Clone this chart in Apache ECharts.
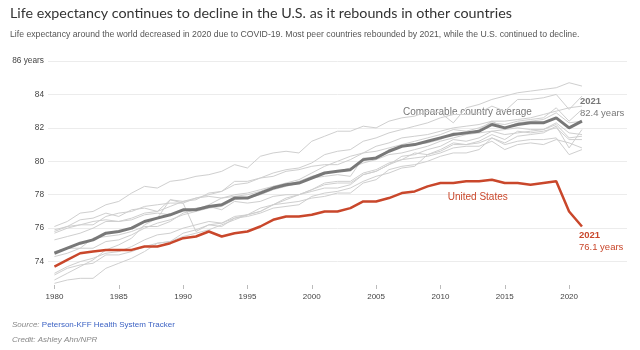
<!DOCTYPE html>
<html>
<head>
<meta charset="utf-8">
<script src="https://cdn.jsdelivr.net/npm/echarts@6/dist/echarts.min.js"></script>
<style>html,body{margin:0;padding:0;background:#fff}#c{width:640px;height:350px}</style>
</head>
<body>
<div id="c"></div>
<script>
const years = [1980,1981,1982,1983,1984,1985,1986,1987,1988,1989,1990,1991,1992,1993,1994,1995,1996,1997,1998,1999,2000,2001,2002,2003,2004,2005,2006,2007,2008,2009,2010,2011,2012,2013,2014,2015,2016,2017,2018,2019,2020,2021];
const xTicks = [1980,1985,1990,1995,2000,2005,2010,2015,2020];
const yTicks = [74,76,78,80,82,84,86];

const usValues = [73.7,74.1,74.5,74.6,74.7,74.7,74.7,74.9,74.9,75.1, 75.4,75.5,75.8,75.5,75.7,75.8,76.1,76.5,76.7,76.7, 76.8,77.0,77.0,77.2,77.6,77.6,77.8,78.1,78.2,78.5, 78.7,78.7,78.8,78.8,78.9,78.7,78.7,78.6,78.7,78.8, 77.0,76.1];
const avgValues = [74.5,74.8,75.1,75.3,75.7,75.8,76.0,76.4,76.6,76.8, 77.1,77.1,77.3,77.4,77.8,77.8,78.1,78.4,78.6,78.7, 79.0,79.3,79.4,79.5,80.1,80.2,80.6,80.9,81.0,81.2, 81.4,81.6,81.7,81.8,82.2,82.0,82.2,82.3,82.3,82.6, 82.0,82.4];

const japan = [76.1,76.4,76.9,77.0,77.4,77.6,78.1,78.5,78.4,78.8, 78.9,79.1,79.2,79.4,79.8,79.6,80.3,80.5,80.6,80.5, 81.2,81.5,81.8,81.8,82.1,82.0,82.4,82.6,82.7,83.0, 82.9,82.3,83.2,83.4,83.7,83.9,84.1,84.2,84.3,84.4, 84.7,84.5];
const switzerland = [75.7,76.0,76.2,76.2,76.7,76.9,77.0,77.3,77.4,77.5, 77.5,77.8,78.0,78.2,78.6,78.7,79.0,79.3,79.5,79.6, 79.9,80.4,80.6,80.7,81.2,81.4,81.7,81.9,82.1,82.3, 82.6,82.8,82.8,82.9,83.3,83.0,83.7,83.7,83.8,84.0, 83.1,83.9];
const sweden = [75.8,76.1,76.5,76.6,76.9,76.7,77.1,77.2,77.0,77.7, 77.6,77.7,78.1,78.2,78.8,78.8,79.0,79.1,79.4,79.5, 79.7,79.8,79.8,80.1,80.5,80.6,80.8,81.0,81.2,81.4, 81.6,81.9,81.8,82.0,82.3,82.2,82.4,82.5,82.6,83.2, 82.4,83.1];
const netherlands = [75.9,76.1,76.2,76.4,76.5,76.4,76.5,76.8,76.9,76.8, 77.0,77.2,77.3,77.1,77.6,77.5,77.6,77.9,78.0,78.0, 78.2,78.4,78.4,78.6,79.2,79.4,79.8,80.3,80.4,80.7, 80.9,81.3,81.2,81.4,81.8,81.6,81.7,81.8,81.9,82.2, 81.4,81.5];
const canada = [75.3,75.5,75.7,76.0,76.4,76.4,76.6,76.9,77.0,77.3, 77.6,77.8,77.9,77.8,78.0,78.1,78.3,78.5,78.6,78.8, 79.1,79.3,79.4,79.6,79.9,80.1,80.4,80.5,80.7,80.9, 81.2,81.4,81.6,81.7,81.8,81.9,82.0,81.9,81.9,82.3, 81.7,81.6];
const australia = [74.6,74.8,74.8,75.4,75.5,75.6,75.8,76.1,76.1,76.4, 76.9,77.1,77.4,77.8,77.9,78.0,78.2,78.5,78.7,78.9, 79.3,79.7,80.0,80.3,80.5,80.9,81.1,81.4,81.5,81.6, 81.8,82.0,82.1,82.2,82.4,82.4,82.5,82.6,82.8,83.0, 83.2,83.3];
const france = [74.3,74.5,74.8,74.8,75.2,75.3,75.6,76.0,76.3,76.5, 76.8,77.0,77.2,77.3,77.7,77.8,78.0,78.3,78.5,78.7, 79.0,79.1,79.2,79.1,80.2,80.2,80.7,80.9,81.0,81.1, 81.3,81.7,81.6,81.9,82.4,82.0,82.3,82.4,82.5,82.9, 82.3,82.4];
const germany = [72.9,73.3,73.7,74.1,74.7,75.0,75.4,76.2,76.6,77.7, 77.5,75.8,76.2,76.3,76.6,76.8,77.0,77.4,77.7,78.0, 78.3,78.6,78.7,78.7,79.2,79.4,79.8,80.1,80.2,80.3, 80.5,80.8,80.9,80.9,81.2,80.7,81.0,81.1,81.0,81.3, 81.1,80.8];
const uk = [73.2,73.6,73.8,73.9,74.4,74.4,74.6,74.9,75.1,75.2, 75.7,75.9,76.2,76.1,76.6,76.7,76.9,77.2,77.3,77.4, 77.9,78.1,78.2,78.4,78.8,79.1,79.3,79.6,79.7,80.4, 80.6,81.0,81.0,81.1,81.4,81.0,81.2,81.3,81.3,81.4, 80.4,80.7];
const belgium = [73.3,73.7,74.0,74.2,74.5,74.6,74.9,75.3,75.6,75.7, 76.0,76.2,76.4,76.3,76.7,76.8,77.2,77.4,77.5,77.6, 77.8,77.9,78.1,78.1,78.7,78.9,79.5,79.7,79.8,80.0, 80.3,80.5,80.5,80.7,81.4,81.1,81.5,81.6,81.7,82.1, 80.8,81.9];
const austria = [72.7,72.9,73.0,73.0,73.6,73.9,74.2,74.6,75.1,75.2, 75.5,75.7,75.9,76.2,76.5,76.8,77.0,77.4,77.8,78.0, 78.3,78.7,78.8,78.8,79.3,79.5,79.9,80.1,80.5,80.4, 80.7,81.1,81.0,81.2,81.6,81.3,81.8,81.7,81.8,82.0, 81.3,81.3];

const countryNames = ['Japan','Switzerland','Sweden','Netherlands','Canada','Australia','France','Germany','United Kingdom','Belgium','Austria'];
const countryValues = [japan, switzerland, sweden, netherlands, canada, australia, france, germany, uk, belgium, austria];

const FONT = 'Liberation Sans, Arial, Helvetica, sans-serif';
const RED = '#c9472b';
const DARK = '#787878';

const toPairs = vals => years.map((y, i) => [y, vals[i]]);

const series = countryValues.map((vals, k) => ({
  name: countryNames[k], type: 'line', data: toPairs(vals), symbol: 'none',
  lineStyle: { color: '#cfcfcf', width: 1 }, z: 1, silent: true, animation: false
}));
series.push({
  name: 'Comparable country average', type: 'line', data: toPairs(avgValues), symbol: 'none',
  lineStyle: { color: DARK, width: 3 }, z: 3, animation: false
});
series.push({
  name: 'United States', type: 'line', data: toPairs(usValues), symbol: 'none',
  lineStyle: { color: RED, width: 2.5 }, z: 4, animation: false
});

const chart = echarts.init(document.getElementById('c'), null, { renderer: 'canvas' });
chart.setOption({
  backgroundColor: '#fff',
  animation: false,
  textStyle: { fontFamily: FONT },
  title: [
    { text: 'Life expectancy continues to decline in the U.S. as it rebounds in other countries',
      left: 10, top: 6, padding: 0, textStyle: { fontSize: 14.3, fontWeight: 'normal', color: '#333', fontFamily: 'Lato, ' + FONT } },
    { text: 'Life expectancy around the world decreased in 2020 due to COVID-19. Most peer countries rebounded by 2021, while the U.S. continued to decline.',
      left: 10, top: 30, padding: 0, textStyle: { fontSize: 8.7, fontWeight: 'normal', color: '#555', fontFamily: FONT } },
    { text: '{s|Source: }{l|Peterson-KFF Health System Tracker}',
      left: 12, top: 321, padding: 0, textStyle: { rich: {
        s: { fontSize: 8, fontStyle: 'italic', fontWeight: 'normal', color: '#888', fontFamily: FONT },
        l: { fontSize: 8, fontWeight: 'normal', color: '#3d63c4', fontFamily: FONT } } } },
    { text: 'Credit: Ashley Ahn/NPR',
      left: 12, top: 336, padding: 0, textStyle: { fontSize: 8, fontStyle: 'italic', fontWeight: 'normal', color: '#888', fontFamily: FONT } }
  ],
  grid: { left: 48, right: 13, top: 61, bottom: 65 },
  xAxis: {
    type: 'value', min: 1979.5, max: 2024.5,
    axisLine: { show: false },
    axisTick: { show: true, length: 4, customValues: xTicks, lineStyle: { color: '#bbb' } },
    axisLabel: { customValues: xTicks, fontSize: 8, color: '#444', margin: 8, fontFamily: FONT,
      formatter: v => String(v) },
    splitLine: { show: false }
  },
  yAxis: {
    type: 'value', min: 72.6, max: 86,
    axisLine: { show: false },
    axisTick: { show: false, customValues: yTicks },
    axisLabel: { customValues: yTicks, fontSize: 8.3, color: '#444', margin: 4, fontFamily: FONT,
      formatter: v => v === 86 ? '86 years' : String(v) },
    splitLine: { show: true, lineStyle: { color: '#ececec', width: 1 } }
  },
  series: series
});

// annotations anchored to data coordinates
const avgLast = [years[years.length - 1], avgValues[avgValues.length - 1]];
const usLast = [years[years.length - 1], usValues[usValues.length - 1]];
const pAvgLbl = chart.convertToPixel({ gridIndex: 0 }, [2012.1, 82.95]);
const pUsLbl = chart.convertToPixel({ gridIndex: 0 }, [2012.9, 77.83]);
const pAvgEnd = chart.convertToPixel({ gridIndex: 0 }, avgLast);
const pUsEnd = chart.convertToPixel({ gridIndex: 0 }, usLast);

chart.setOption({
  graphic: [
    { type: 'text', x: pAvgLbl[0], y: pAvgLbl[1], style: { text: 'Comparable country average', fill: DARK, fontSize: 10, fontFamily: FONT, align: 'center', verticalAlign: 'middle' } },
    { type: 'text', x: pUsLbl[0], y: pUsLbl[1], style: { text: 'United States', fill: RED, fontSize: 10, fontFamily: FONT, align: 'center', verticalAlign: 'middle' } },
    { type: 'text', x: pAvgEnd[0] - 2, y: pAvgEnd[1] - 20, style: { text: String(avgLast[0]), fill: DARK, fontSize: 9.5, fontWeight: 'bold', fontFamily: FONT, align: 'left', verticalAlign: 'middle' } },
    { type: 'text', x: pAvgEnd[0] - 2, y: pAvgEnd[1] - 8, style: { text: avgLast[1].toFixed(1) + ' years', fill: DARK, fontSize: 9.5, fontFamily: FONT, align: 'left', verticalAlign: 'middle' } },
    { type: 'text', x: pUsEnd[0] - 3, y: pUsEnd[1] + 9, style: { text: String(usLast[0]), fill: RED, fontSize: 9.5, fontWeight: 'bold', fontFamily: FONT, align: 'left', verticalAlign: 'middle' } },
    { type: 'text', x: pUsEnd[0] - 3, y: pUsEnd[1] + 21, style: { text: usLast[1].toFixed(1) + ' years', fill: RED, fontSize: 9.5, fontFamily: FONT, align: 'left', verticalAlign: 'middle' } }
  ]
});
</script>
</body>
</html>
